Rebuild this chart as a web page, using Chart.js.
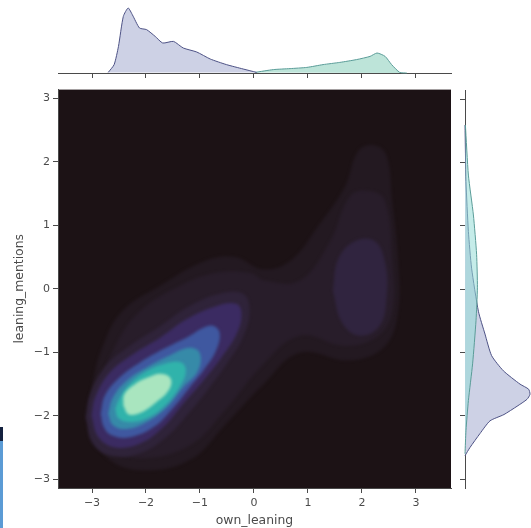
<!DOCTYPE html>
<html>
<head>
<meta charset="utf-8">
<title>own_leaning vs leaning_mentions</title>
<script src="https://cdn.jsdelivr.net/npm/chart.js@4"></script>
<style>
  html, body { margin: 0; padding: 0; background: #fff; overflow: hidden; }
  #page { position: relative; width: 531px; height: 528px; }
  canvas { position: absolute; filter: blur(0.7px); }
  #mainChart { left: 0; top: 80px; }
  #topChart { left: 0; top: 0; }
  #rightChart { left: 455px; top: 80px; }
  #edge { position: absolute; left: 0; top: 427px; width: 3px; height: 101px; background: #5b9bd5; border-top: 14px solid #14213f; box-sizing: border-box; }
</style>
</head>
<body>
<div id="page">
  <div id="edge"></div>
  <canvas id="topChart" width="531" height="84"></canvas>
  <canvas id="mainChart" width="460" height="448"></canvas>
  <canvas id="rightChart" width="76" height="448"></canvas>
</div>
<script>
const tickValues = [-3, -2, -1, 0, 1, 2, 3];

// filled density levels as [own_leaning, leaning_mentions]
const level1 = [[-3.07,-2.08],[-3.00,-1.53],[-2.80,-0.90],[-2.44,-0.35],[-1.74,0.05],[-0.91,0.44],[-0.35,0.50],[0.15,0.31],[0.67,0.44],[1.19,0.99],[1.69,1.62],[1.93,2.17],[2.24,2.26],[2.46,2.09],[2.56,1.38],[2.67,0.44],[2.67,-0.35],[2.43,-0.90],[1.78,-1.13],[0.85,-1.01],[0.15,-1.53],[-0.54,-2.15],[-1.19,-2.70],[-2.11,-2.86],[-2.76,-2.63],[-3.07,-2.08]];
const level2 = [[-2.93,-2.08],[-2.85,-1.53],[-2.57,-0.90],[-2.11,-0.35],[-1.37,0.05],[-0.72,0.25],[-0.07,0.25],[0.20,0.13],[0.85,0.13],[1.41,0.75],[1.78,1.46],[2.15,1.54],[2.43,1.38],[2.56,0.44],[2.56,-0.35],[2.30,-0.74],[1.69,-0.90],[0.85,-0.74],[0.15,-1.21],[-0.54,-1.92],[-1.19,-2.47],[-2.11,-2.67],[-2.70,-2.47],[-2.93,-2.08]];
const level3 = [[1.46,-0.03],[1.56,0.47],[1.87,0.75],[2.24,0.75],[2.43,0.41],[2.46,-0.11],[2.33,-0.58],[1.96,-0.74],[1.63,-0.53],[1.46,-0.03]];
const level3b = [[-3.12,-2.02],[-3.03,-1.65],[-2.75,-1.22],[-2.30,-0.90],[-1.75,-0.60],[-1.25,-0.30],[-0.65,-0.08],[-0.20,-0.08],[-0.08,-0.35],[-0.20,-0.75],[-0.48,-1.15],[-0.82,-1.55],[-1.20,-1.95],[-1.60,-2.32],[-2.08,-2.58],[-2.60,-2.64],[-2.98,-2.45],[-3.12,-2.02]];
const level4 = [[-3.01,-2.00],[-2.94,-1.71],[-2.67,-1.32],[-2.24,-1.03],[-1.74,-0.77],[-1.25,-0.48],[-0.69,-0.27],[-0.32,-0.24],[-0.23,-0.40],[-0.32,-0.71],[-0.60,-1.08],[-0.94,-1.45],[-1.31,-1.81],[-1.68,-2.18],[-2.11,-2.44],[-2.57,-2.50],[-2.88,-2.34],[-3.01,-2.00]];
const level5 = [[-2.84,-1.97],[-2.76,-1.68],[-2.48,-1.39],[-2.11,-1.16],[-1.68,-0.95],[-1.25,-0.77],[-0.81,-0.58],[-0.64,-0.68],[-0.70,-0.97],[-0.94,-1.29],[-1.19,-1.55],[-1.49,-1.87],[-1.86,-2.18],[-2.30,-2.34],[-2.64,-2.31],[-2.78,-2.18],[-2.84,-1.97]];
const level6 = [[-2.70,-1.97],[-2.61,-1.71],[-2.36,-1.45],[-1.99,-1.24],[-1.56,-1.05],[-1.19,-0.93],[-1.00,-1.02],[-1.04,-1.30],[-1.31,-1.55],[-1.62,-1.87],[-1.99,-2.10],[-2.36,-2.21],[-2.61,-2.15],[-2.70,-1.97]];
const level7 = [[-2.57,-1.89],[-2.48,-1.71],[-2.30,-1.50],[-1.99,-1.30],[-1.65,-1.18],[-1.35,-1.16],[-1.26,-1.30],[-1.38,-1.55],[-1.66,-1.85],[-1.98,-2.04],[-2.30,-2.10],[-2.51,-2.04],[-2.57,-1.89]];
const level8 = [[-2.42,-1.84],[-2.40,-1.66],[-2.20,-1.50],[-1.97,-1.40],[-1.72,-1.34],[-1.54,-1.42],[-1.58,-1.60],[-1.80,-1.78],[-2.09,-1.95],[-2.32,-1.98],[-2.42,-1.84]];
const levels = [level8, level7, level6, level5, level4, level3b, level3, level2, level1];
const levelColors = ['#a9e5bf', '#30b3ab', '#368aa8', '#3f58a0', '#3b2b62', '#2f2339', '#30243f', '#281d2a', '#231921'];

// marginal densities
const topBlueX = [-2.70,-2.59,-2.51,-2.42,-2.33,-2.25,-2.12,-1.99,-1.83,-1.69,-1.49,-1.31,-1.06,-0.81,-0.51,-0.20,0.05];
const topBlueY = [0.003,0.042,0.133,0.283,0.325,0.29,0.225,0.217,0.183,0.15,0.158,0.125,0.105,0.07,0.042,0.02,0.003];
const topGreenX = [0.02,0.36,0.67,0.98,1.28,1.59,1.90,2.15,2.28,2.43,2.55,2.70,2.83];
const topGreenY = [0.003,0.017,0.022,0.028,0.042,0.053,0.067,0.083,0.10,0.083,0.042,0.003,0];
const rightBlueY = [2.59,1.70,0.91,0.33,-0.35,-0.71,-1.05,-1.29,-1.50,-1.58,-1.66,-1.74,-1.85,-1.98,-2.08,-2.28,-2.50,-2.63];
const rightBlueX = [0,0.005,0.017,0.033,0.067,0.10,0.133,0.192,0.275,0.318,0.325,0.31,0.26,0.195,0.125,0.075,0.025,0];
const rightGreenY = [2.59,1.80,1.17,0.55,0.02,-0.50,-1.18,-1.76,-2.23,-2.60];
const rightGreenX = [0.002,0.017,0.042,0.058,0.062,0.055,0.038,0.017,0.005,0];

const inkColor = '#4a4a4a';
const xMin = -3.63, xMax = 3.65, yMin = -3.14, yMax = 3.14;
const tickFont = { family: 'DejaVu Sans', size: 11 };
const titleFont = { family: 'DejaVu Sans', size: 12.4 };

function zip(xs, ys) {
    return xs.map((x, i) => ({ x: x, y: ys[i] }));
}

function useTicks(scale) {
    scale.ticks = tickValues.map(v => ({ value: v }));
}

function signed(v) {
    return v < 0 ? '\u2212' + Math.abs(v) : String(v);
}

// dark panel behind the levels, and soft edges on the levels only
const panel = {
    id: 'panel',
    beforeDraw(chart) {
        const a = chart.chartArea;
        chart.ctx.fillStyle = '#1c1215';
        chart.ctx.fillRect(a.left, a.top, a.width, a.height);
    },
    beforeDatasetsDraw(chart) {
        chart.ctx.filter = 'blur(1.6px)';
    },
    afterDatasetsDraw(chart) {
        chart.ctx.filter = 'none';
    }
};

function marginal(points, line, fill) {
    return {
        data: points, showLine: true, fill: 'shape', tension: 0.2,
        borderColor: line, backgroundColor: fill, borderWidth: 1, pointRadius: 0, clip: false
    };
}

const axisLine = { display: true, color: inkColor, width: 1 };
const tickMarks = { drawOnChartArea: false, drawTicks: true, tickLength: 5, color: inkColor };
const baseOptions = {
    responsive: false,
    animation: false,
    events: []
};

new Chart(document.getElementById('mainChart'), {
    type: 'scatter',
    plugins: [panel],
    data: {
        datasets: levels.map((level, i) => ({
            data: level.map(p => ({ x: p[0], y: p[1] })),
            showLine: true, fill: 'shape', tension: 0.4,
            borderWidth: 0, pointRadius: 0, backgroundColor: levelColors[i]
        }))
    },
    options: {
        ...baseOptions,
        plugins: { legend: { display: false }, tooltip: { enabled: false }, filler: { drawTime: 'beforeDatasetDraw' } },
        layout: { padding: { top: 8, right: 9 } },
        scales: {
            x: {
                min: xMin, max: xMax,
                afterBuildTicks: useTicks,
                afterFit(scale) { scale.height = 40; },
                grid: tickMarks, border: axisLine,
                ticks: { autoSkip: false, maxRotation: 0, color: inkColor, font: tickFont, padding: 4, callback: signed },
                title: { display: true, text: 'own_leaning', color: inkColor, font: titleFont, padding: { top: 2, bottom: 0 } }
            },
            y: {
                min: yMin, max: yMax,
                afterBuildTicks: useTicks,
                afterFit(scale) { scale.width = 58; },
                grid: tickMarks, border: axisLine,
                ticks: { autoSkip: false, color: inkColor, font: tickFont, padding: 3, callback: signed },
                title: { display: true, text: 'leaning_mentions', color: inkColor, font: titleFont, padding: { top: 12, bottom: 0 } }
            }
        }
    }
});

new Chart(document.getElementById('topChart'), {
    type: 'scatter',
    data: {
        datasets: [
            marginal(zip(topBlueX, topBlueY), '#4d5285', '#cdd1e5'),
            marginal(zip(topGreenX, topGreenY), '#5a9c98', '#bde4d9')
        ]
    },
    options: {
        ...baseOptions,
        plugins: { legend: { display: false }, tooltip: { enabled: false } },
        layout: { padding: { left: 58, right: 80 } },
        scales: {
            x: {
                min: xMin, max: xMax,
                afterBuildTicks: useTicks,
                afterFit(scale) { scale.height = 11; },
                grid: tickMarks, border: axisLine,
                ticks: { autoSkip: false, maxRotation: 0, callback: () => '' }
            },
            y: { display: false, min: 0, max: 0.365 }
        }
    }
});

new Chart(document.getElementById('rightChart'), {
    type: 'scatter',
    data: {
        datasets: [
            marginal(zip(rightGreenX, rightGreenY), '#5a9c98', 'rgba(150,220,215,0.55)'),
            marginal(zip(rightBlueX, rightBlueY), '#4d5285', '#cdd1e5')
        ]
    },
    options: {
        ...baseOptions,
        plugins: { legend: { display: false }, tooltip: { enabled: false } },
        layout: { padding: { top: 8, bottom: 40 } },
        scales: {
            x: { display: false, min: 0, max: 0.33 },
            y: {
                min: yMin, max: yMax,
                afterBuildTicks: useTicks,
                afterFit(scale) { scale.width = 10; },
                grid: tickMarks, border: axisLine,
                ticks: { autoSkip: false, callback: () => '' }
            }
        }
    }
});
</script>
</body>
</html>
